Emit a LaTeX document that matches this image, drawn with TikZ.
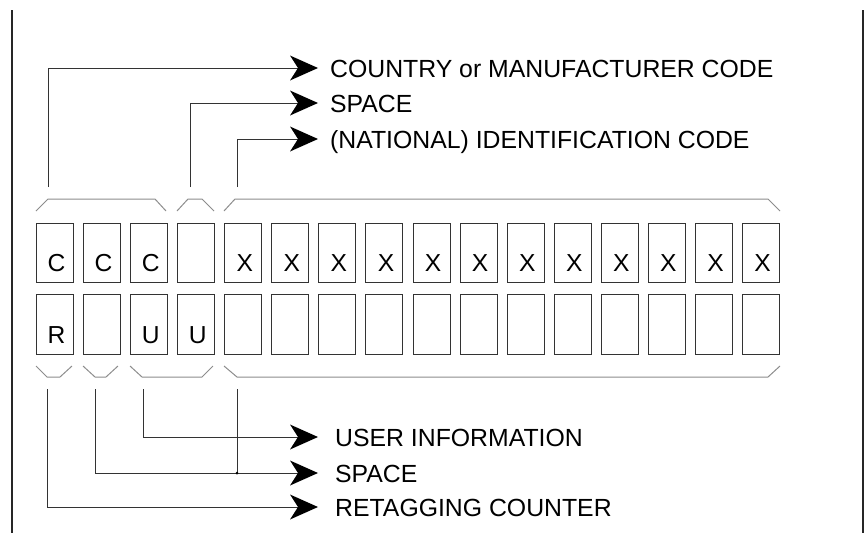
\documentclass[tikz,border=0pt]{standalone}
\usepackage{fontspec}
\setmainfont{Liberation Sans}
\usetikzlibrary{arrows.meta}
\begin{document}
\begin{tikzpicture}[x=1pt,y=-1pt,
  cell/.style={draw=black!80, line width=1pt, minimum width=37pt, inner sep=0pt, anchor=north west},
  letter/.style={font=\fontsize{24.6}{27}\selectfont, inner sep=0pt, anchor=base},
  lbl/.style={font=\fontsize{24.8}{27}\selectfont, inner sep=0pt, anchor=base west},
  brace/.style={draw=black!45, line width=1pt},
  conn/.style={draw=black!80, line width=1pt},
  arr/.style={conn, -{Stealth[length=28pt, width=25pt, inset=8pt, color=black, line width=0pt]}},
  frame/.style={draw=black!85, line width=1.3pt}]
\useasboundingbox (0,0) rectangle (864,533);
% frame sides
\draw[frame] (12,10) -- (12,533);
\draw[frame] (863,10) -- (863,533);
% cells
\foreach \i in {0,...,15}{
  \pgfmathsetmacro\xx{36+47.07*\i}
  \node[cell, minimum height=59pt] (t\i) at (\xx,223) {};
  \node[cell, minimum height=60pt] (b\i) at (\xx,294) {};
}
% letters
\foreach \i/\l in {0/C,1/C,2/C,4/X,5/X,6/X,7/X,8/X,9/X,10/X,11/X,12/X,13/X,14/X,15/X}{
  \pgfmathsetmacro\xx{36+47.07*\i+18.5+2}
  \node[letter] (tl\i) at (\xx,271.5) {\l};
}
\foreach \i/\l in {0/R,2/U,3/U}{
  \pgfmathsetmacro\xx{36+47.07*\i+18.5+2}
  \node[letter] (bl\i) at (\xx,343.5) {\l};
}
% top braces
\draw[brace] (36,211) -- (48,199) -- (155,199) -- (166,211);
\draw[brace] (177,211) -- (188,199) -- (202,199) -- (214,211);
\draw[brace] (224,211) -- (235,199) -- (768,199) -- (780,211);
% bottom braces
\draw[brace] (36,366) -- (47,377) -- (60,377) -- (72,366);
\draw[brace] (83,366) -- (95,377) -- (106,377) -- (118,366);
\draw[brace] (130,366) -- (142,377) -- (202,377) -- (213,366);
\draw[brace] (224,366) -- (237,377) -- (768,377) -- (780,366);
% top labels
\node[lbl] (labA) at (330,77) {COUNTRY or MANUFACTURER CODE};
\node[lbl] (labB) at (330,112) {SPACE};
\node[lbl] (labC) at (330,148) {(NATIONAL) IDENTIFICATION CODE};
\coordinate (uA) at (48,187);
\coordinate (uB) at (190,187);
\coordinate (uC) at (237,187);
\coordinate (tipA) at (318,68);
\coordinate (tipB) at (318,103);
\coordinate (tipC) at (318,139);
\draw[arr] (uA) |- (tipA);
\draw[arr] (uB) |- (tipB);
\draw[arr] (uC) |- (tipC);
% bottom labels
\node[lbl] (labD) at (335,446) {USER INFORMATION};
\node[lbl] (labE) at (335,482) {SPACE};
\node[lbl] (labF) at (335,516) {RETAGGING COUNTER};
\coordinate (dA) at (143,389);
\coordinate (dB) at (95,389);
\coordinate (dC) at (47,389);
\coordinate (dX) at (237,389);
\coordinate (tipD) at (318,437);
\coordinate (tipE) at (318,473);
\coordinate (tipF) at (318,507);
\coordinate (jn) at (237,473);
\draw[arr] (dA) |- (tipD);
\draw[arr] (dB) |- (tipE);
\draw[arr] (dC) |- (tipF);
\draw[conn] (dX) -- (jn);
\fill[black] (jn) circle (1.5pt);
\end{tikzpicture}
\end{document}
